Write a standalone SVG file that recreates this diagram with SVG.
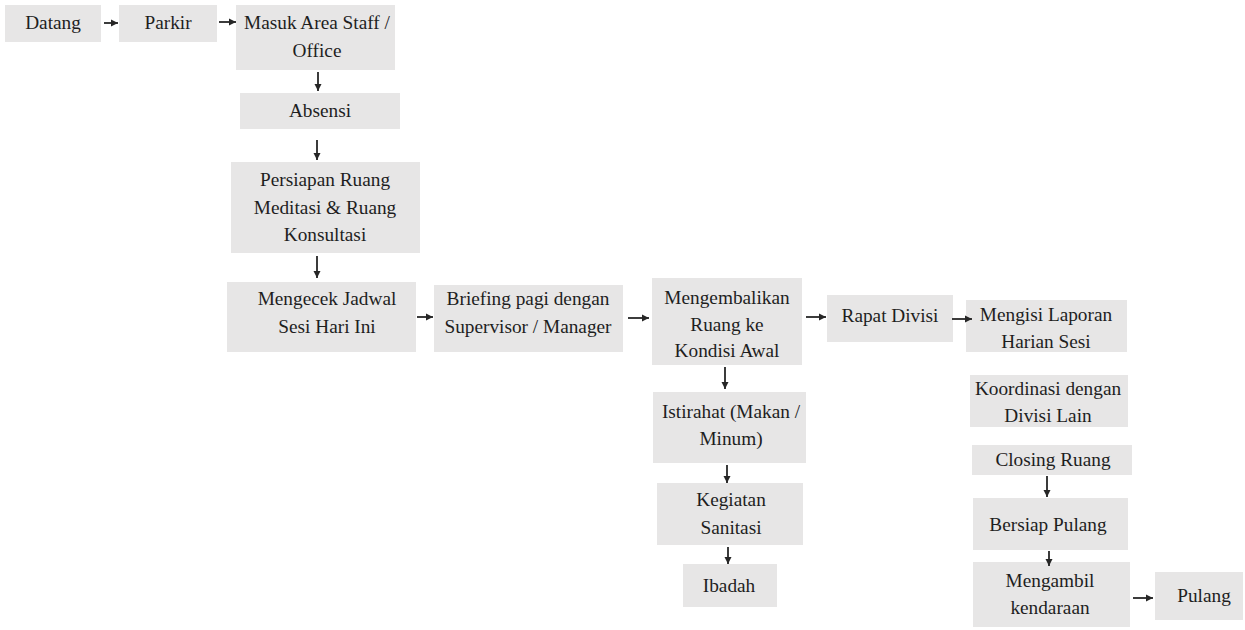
<svg xmlns="http://www.w3.org/2000/svg" width="1245" height="630" viewBox="0 0 1245 630">
<style>
.box{fill:#e7e6e6}
text{font-family:"Liberation Serif","Times New Roman",serif;font-size:19.3px;fill:#1e1e1e;text-anchor:middle}
.c{stroke:#262626;stroke-width:1.8;fill:none}
</style>
<defs>
<marker id="ah" markerUnits="userSpaceOnUse" markerWidth="9" markerHeight="9" refX="7" refY="4.5" orient="auto">
<path d="M0,1 L7,4.5 L0,8 Z" fill="#262626"/>
</marker>
</defs>
<rect width="1245" height="630" fill="#ffffff"/>
<g id="n-datang"><rect class="box" x="5" y="5" width="96" height="37"/><text x="53" y="29">Datang</text></g>
<g id="n-parkir"><rect class="box" x="119" y="5" width="98" height="37"/><text x="168" y="29">Parkir</text></g>
<g id="n-masuk"><rect class="box" x="236" y="5" width="159" height="65"/><text x="317" y="29">Masuk Area Staff /</text><text x="317" y="57">Office</text></g>
<g id="n-absensi"><rect class="box" x="240" y="93" width="160" height="36"/><text x="320" y="117">Absensi</text></g>
<g id="n-persiapan"><rect class="box" x="231" y="162" width="189" height="91"/><text x="325" y="186">Persiapan Ruang</text><text x="325" y="214">Meditasi &amp; Ruang</text><text x="325" y="241">Konsultasi</text></g>
<g id="n-mengecek"><rect class="box" x="227" y="282" width="189" height="70"/><text x="327" y="305">Mengecek Jadwal</text><text x="327" y="333">Sesi Hari Ini</text></g>
<g id="n-briefing"><rect class="box" x="434" y="285" width="189" height="67"/><text x="528" y="305">Briefing pagi dengan</text><text x="528" y="333">Supervisor / Manager</text></g>
<g id="n-mengembalikan"><rect class="box" x="652" y="278" width="150" height="87"/><text x="727" y="304">Mengembalikan</text><text x="727" y="331">Ruang ke</text><text x="727" y="357">Kondisi Awal</text></g>
<g id="n-rapat"><rect class="box" x="827" y="295" width="126" height="47"/><text x="890" y="322">Rapat Divisi</text></g>
<g id="n-istirahat"><rect class="box" x="653" y="392" width="153" height="71"/><text x="731" y="418">Istirahat (Makan /</text><text x="731" y="445">Minum)</text></g>
<g id="n-kegiatan"><rect class="box" x="657" y="483" width="146" height="62"/><text x="731" y="506">Kegiatan</text><text x="731" y="534">Sanitasi</text></g>
<g id="n-ibadah"><rect class="box" x="683" y="564" width="94" height="43"/><text x="729" y="592">Ibadah</text></g>
<g id="n-mengisi"><rect class="box" x="966" y="300" width="161" height="52"/><text x="1046" y="321">Mengisi Laporan</text><text x="1046" y="348">Harian Sesi</text></g>
<g id="n-koordinasi"><rect class="box" x="970" y="375" width="158" height="52"/><text x="1048" y="395">Koordinasi dengan</text><text x="1048" y="422">Divisi Lain</text></g>
<g id="n-closing"><rect class="box" x="972" y="445" width="160" height="30"/><text x="1053" y="466">Closing Ruang</text></g>
<g id="n-bersiap"><rect class="box" x="973" y="498" width="155" height="52"/><text x="1048" y="531">Bersiap Pulang</text></g>
<g id="n-mengambil"><rect class="box" x="973" y="562" width="157" height="65"/><text x="1050" y="587">Mengambil</text><text x="1050" y="614">kendaraan</text></g>
<g id="n-pulang"><rect class="box" x="1155" y="572" width="88" height="48"/><text x="1204" y="602">Pulang</text></g>
<g id="connectors">
<line class="c" x1="104" y1="23" x2="118" y2="23" marker-end="url(#ah)"/>
<line class="c" x1="219" y1="22" x2="236" y2="22" marker-end="url(#ah)"/>
<line class="c" x1="318" y1="72" x2="318" y2="91" marker-end="url(#ah)"/>
<line class="c" x1="317" y1="140" x2="317" y2="160" marker-end="url(#ah)"/>
<line class="c" x1="317" y1="256" x2="317" y2="278" marker-end="url(#ah)"/>
<line class="c" x1="417" y1="317" x2="433" y2="317" marker-end="url(#ah)"/>
<line class="c" x1="628" y1="318" x2="649" y2="318" marker-end="url(#ah)"/>
<line class="c" x1="806" y1="317" x2="826" y2="317" marker-end="url(#ah)"/>
<line class="c" x1="952" y1="319" x2="972" y2="319" marker-end="url(#ah)"/>
<line class="c" x1="725" y1="367" x2="725" y2="389" marker-end="url(#ah)"/>
<line class="c" x1="727" y1="465" x2="727" y2="483" marker-end="url(#ah)"/>
<line class="c" x1="728" y1="547" x2="728" y2="564" marker-end="url(#ah)"/>
<line class="c" x1="1047" y1="476" x2="1047" y2="497" marker-end="url(#ah)"/>
<line class="c" x1="1049" y1="551" x2="1049" y2="566" marker-end="url(#ah)"/>
<line class="c" x1="1133" y1="598" x2="1153" y2="598" marker-end="url(#ah)"/>
</g>
</svg>
